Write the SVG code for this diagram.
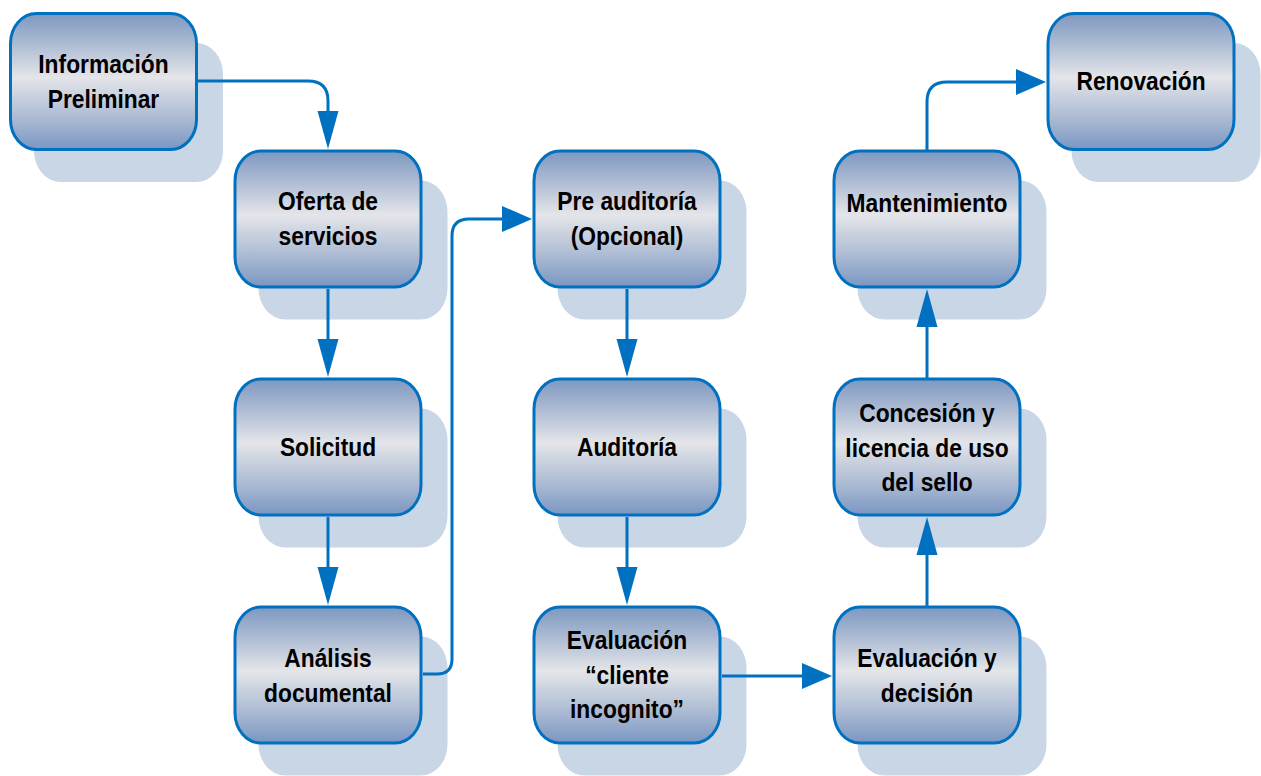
<svg xmlns="http://www.w3.org/2000/svg" width="1261" height="776" viewBox="0 0 1261 776">
  <style>
    .shadow { fill: #c9d6e6; }
    .box { fill: url(#boxGrad); stroke: #0070c0; stroke-width: 3; }
    .label { font-family: "Liberation Sans", Arial, sans-serif; font-weight: bold; font-size: 22.8px; fill: #000; text-anchor: middle; }
    .conn { fill: none; stroke: #0070c0; stroke-width: 3; }
    .v { marker-end: url(#arrowV); }
    .h { marker-end: url(#arrowH); }
  </style>
  <defs>
    <linearGradient id="boxGrad" x1="0" y1="0" x2="0" y2="1">
      <stop offset="0" stop-color="#7e98c0"/>
      <stop offset="0.18" stop-color="#a3b4cf"/>
      <stop offset="0.47" stop-color="#e4e5e9"/>
      <stop offset="0.78" stop-color="#a9b9d2"/>
      <stop offset="1" stop-color="#7a96c2"/>
    </linearGradient>
    <marker id="arrowV" markerUnits="userSpaceOnUse" orient="auto" markerWidth="40" markerHeight="24" refX="0" refY="10.5" overflow="visible">
      <path d="M0,0 L38,10.5 L0,21 Z" fill="#0070c0"/>
    </marker>
    <marker id="arrowH" markerUnits="userSpaceOnUse" orient="auto" markerWidth="32" markerHeight="28" refX="0" refY="13" overflow="visible">
      <path d="M0,0 L30,13 L0,26 Z" fill="#0070c0"/>
    </marker>
  </defs>

  <g id="n-informacion">
    <rect class="shadow" x="34" y="43" width="189" height="139" rx="27" ry="31"/>
    <rect class="box" x="10.5" y="13.5" width="186" height="136" rx="26" ry="30"/>
    <text class="label" transform="translate(103.5,73) scale(1,1.14)"><tspan x="0" y="0">Información</tspan><tspan x="0" y="30.3">Preliminar</tspan></text>
  </g>
  <g id="n-renovacion">
    <rect class="shadow" x="1071.5" y="43" width="189" height="139" rx="27" ry="31"/>
    <rect class="box" x="1048" y="13.5" width="186" height="136" rx="26" ry="30"/>
    <text class="label" transform="translate(1141,90) scale(1,1.14)"><tspan x="0" y="0">Renovación</tspan></text>
  </g>
  <g id="n-oferta">
    <rect class="shadow" x="258.5" y="180.5" width="189" height="139" rx="27" ry="31"/>
    <rect class="box" x="235" y="151" width="186" height="136" rx="26" ry="30"/>
    <text class="label" transform="translate(328,210) scale(1,1.14)"><tspan x="0" y="0">Oferta de</tspan><tspan x="0" y="30.3">servicios</tspan></text>
  </g>
  <g id="n-preauditoria">
    <rect class="shadow" x="557.5" y="180.5" width="189" height="139" rx="27" ry="31"/>
    <rect class="box" x="534" y="151" width="186" height="136" rx="26" ry="30"/>
    <text class="label" transform="translate(627,210) scale(1,1.14)"><tspan x="0" y="0">Pre auditoría</tspan><tspan x="0" y="30.3">(Opcional)</tspan></text>
  </g>
  <g id="n-mantenimiento">
    <rect class="shadow" x="857.5" y="180.5" width="189" height="139" rx="27" ry="31"/>
    <rect class="box" x="834" y="151" width="186" height="136" rx="26" ry="30"/>
    <text class="label" transform="translate(927,212) scale(1,1.14)"><tspan x="0" y="0">Mantenimiento</tspan></text>
  </g>
  <g id="n-solicitud">
    <rect class="shadow" x="258.5" y="408.5" width="189" height="139" rx="27" ry="31"/>
    <rect class="box" x="235" y="379" width="186" height="136" rx="26" ry="30"/>
    <text class="label" transform="translate(328,456) scale(1,1.14)"><tspan x="0" y="0">Solicitud</tspan></text>
  </g>
  <g id="n-auditoria">
    <rect class="shadow" x="557.5" y="408.5" width="189" height="139" rx="27" ry="31"/>
    <rect class="box" x="534" y="379" width="186" height="136" rx="26" ry="30"/>
    <text class="label" transform="translate(627,456) scale(1,1.14)"><tspan x="0" y="0">Auditoría</tspan></text>
  </g>
  <g id="n-concesion">
    <rect class="shadow" x="857.5" y="408.5" width="189" height="139" rx="27" ry="31"/>
    <rect class="box" x="834" y="379" width="186" height="136" rx="26" ry="30"/>
    <text class="label" transform="translate(927,422) scale(1,1.14)"><tspan x="0" y="0">Concesión y</tspan><tspan x="0" y="30.3">licencia de uso</tspan><tspan x="0" y="60.6">del sello</tspan></text>
  </g>
  <g id="n-analisis">
    <rect class="shadow" x="258.5" y="636.5" width="189" height="139" rx="27" ry="31"/>
    <rect class="box" x="235" y="607" width="186" height="136" rx="26" ry="30"/>
    <text class="label" transform="translate(328,667) scale(1,1.14)"><tspan x="0" y="0">Análisis</tspan><tspan x="0" y="30.3">documental</tspan></text>
  </g>
  <g id="n-evaluacion-cliente">
    <rect class="shadow" x="557.5" y="636.5" width="189" height="139" rx="27" ry="31"/>
    <rect class="box" x="534" y="607" width="186" height="136" rx="26" ry="30"/>
    <text class="label" transform="translate(627,649) scale(1,1.14)"><tspan x="0" y="0">Evaluación</tspan><tspan x="0" y="30.3">“cliente</tspan><tspan x="0" y="60.6">incognito”</tspan></text>
  </g>
  <g id="n-evaluacion-decision">
    <rect class="shadow" x="857.5" y="636.5" width="189" height="139" rx="27" ry="31"/>
    <rect class="box" x="834" y="607" width="186" height="136" rx="26" ry="30"/>
    <text class="label" transform="translate(927,667) scale(1,1.14)"><tspan x="0" y="0">Evaluación y</tspan><tspan x="0" y="30.3">decisión</tspan></text>
  </g>

  <g id="connectors">
    <path class="conn v" d="M198,81 H308 Q328,81 328,101 V111"/>
    <path class="conn v" d="M328,289 V339"/>
    <path class="conn v" d="M328,517 V567"/>
    <path class="conn h" d="M423,674 H437 Q452,674 452,659 V236 Q452,219 469,219 H502"/>
    <path class="conn v" d="M627,289 V339"/>
    <path class="conn v" d="M627,517 V567"/>
    <path class="conn h" d="M722,676 H802"/>
    <path class="conn v" d="M927,606 V555"/>
    <path class="conn v" d="M927,378 V327"/>
    <path class="conn h" d="M927,150 V102 Q927,82 947,82 H1016"/>
  </g>
</svg>
